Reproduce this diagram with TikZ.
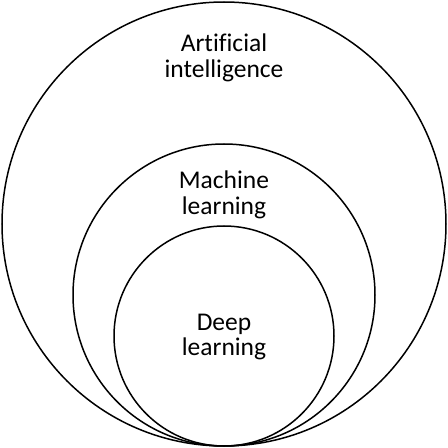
\documentclass[tikz,border=0pt]{standalone}
\usepackage{fontspec}
\setmainfont{Carlito}[Ligatures=NoCommon]
\begin{document}
\begin{tikzpicture}[x=1pt,y=1pt,
  ring/.style={draw=black,line width=1.5pt},
  label/.style={align=center,font=\fontsize{25.5}{25.5}\selectfont,inner sep=0pt}]
\useasboundingbox (0,0) rectangle (448,448);
\draw[ring] (224,224) circle[radius=222];
\draw[ring] (224,153) circle[radius=151];
\draw[ring] (224,112) circle[radius=110];
\node[label] (ai) at (224,390) {Artificial\\intelligence};
\node[label] (ml) at (224,253) {Machine\\learning};
\node[label] (dl) at (224,111) {Deep\\learning};
\end{tikzpicture}
\end{document}
